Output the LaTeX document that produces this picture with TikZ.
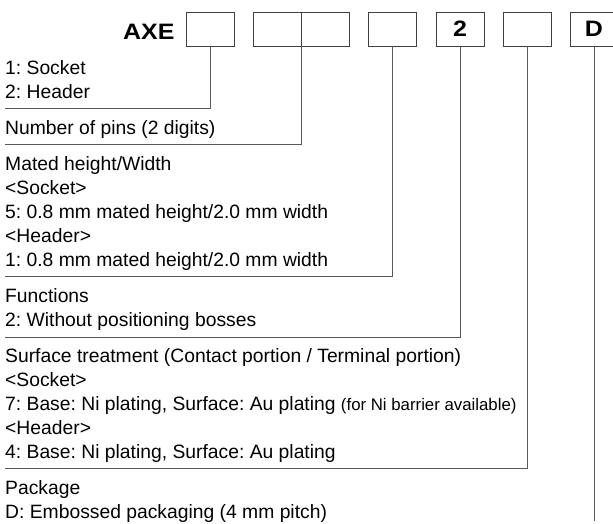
\documentclass[tikz,border=0pt]{standalone}
\usepackage{fontspec}
\setmainfont{Liberation Sans}
\frenchspacing
\begin{document}
\begin{tikzpicture}[x=1pt,y=-1pt,
  digbox/.style={draw=black!75,line width=0.9pt,minimum width=48pt,minimum height=34pt,inner sep=0pt,anchor=center,font=\fontsize{22.3}{22}\selectfont\bfseries},
  conn/.style={draw=black!65,line width=1pt},
  lbl/.style={anchor=base west,inner sep=0pt,font=\fontsize{19.3}{24}\selectfont},
  hdr/.style={anchor=base west,inner sep=0pt,font=\fontsize{22.3}{22}\selectfont\bfseries}]
\useasboundingbox (0,0) rectangle (613,524);
\node[hdr] (axe) at (123,39.5) {\scalebox{1.12}[1]{AXE}};
\node[digbox] (b1) at (210,29) {};
\node[digbox] (b2a) at (277,29) {};
\node[digbox] (b2b) at (325,29) {};
\node[digbox] (b3) at (392.5,29) {};
\node[digbox] (b4) at (460,29) {\scalebox{1.12}[1]{2}};
\node[digbox] (b5) at (527.5,29) {};
\node[digbox] (b6) at (594,29) {\scalebox{1.12}[1]{D}};
% end points
\coordinate (e1) at (5,109);
\coordinate (e2) at (5,144.5);
\coordinate (e3) at (5,276.5);
\coordinate (e4) at (5,337);
\coordinate (e5) at (5,468.5);
\coordinate (e6) at (594,521);
\coordinate (s2) at (301,46);
\draw[conn] (b1.south) |- (e1);
\draw[conn] (s2) |- (e2);
\draw[conn] (b3.south) |- (e3);
\draw[conn] (b4.south) |- (e4);
\draw[conn] (b5.south) |- (e5);
\draw[conn] (b6.south) -- (e6);
% texts
\node[lbl] (t1a) at (5,75) {1: Socket};
\node[lbl] (t1b) at (5,99) {2: Header};
\node[lbl] (t2) at (5,134.5) {Number of pins (2 digits)};
\node[lbl] (t3a) at (5,170) {Mated height/Width};
\node[lbl] (t3b) at (5,194) {<Socket>};
\node[lbl] (t3c) at (5,218) {5: 0.8 mm mated height/2.0 mm width};
\node[lbl] (t3d) at (5,242) {<Header>};
\node[lbl] (t3e) at (5,266) {1: 0.8 mm mated height/2.0 mm width};
\node[lbl] (t4a) at (5,302) {Functions};
\node[lbl] (t4b) at (5,326) {2: Without positioning bosses};
\node[lbl] (t5a) at (5,362.5) {Surface treatment (Contact portion / Terminal portion)};
\node[lbl] (t5b) at (5,386.5) {<Socket>};
\node[lbl] (t5c) at (5,410.5) {7: Base: Ni plating, Surface: Au plating {\fontsize{16.8}{17}\selectfont(for Ni barrier available)}};
\node[lbl] (t5d) at (5,434.5) {<Header>};
\node[lbl] (t5e) at (5,458.5) {4: Base: Ni plating, Surface: Au plating};
\node[lbl] (t6a) at (5,494) {Package};
\node[lbl] (t6b) at (5,518) {D: Embossed packaging (4 mm pitch)};
\end{tikzpicture}
\end{document}
